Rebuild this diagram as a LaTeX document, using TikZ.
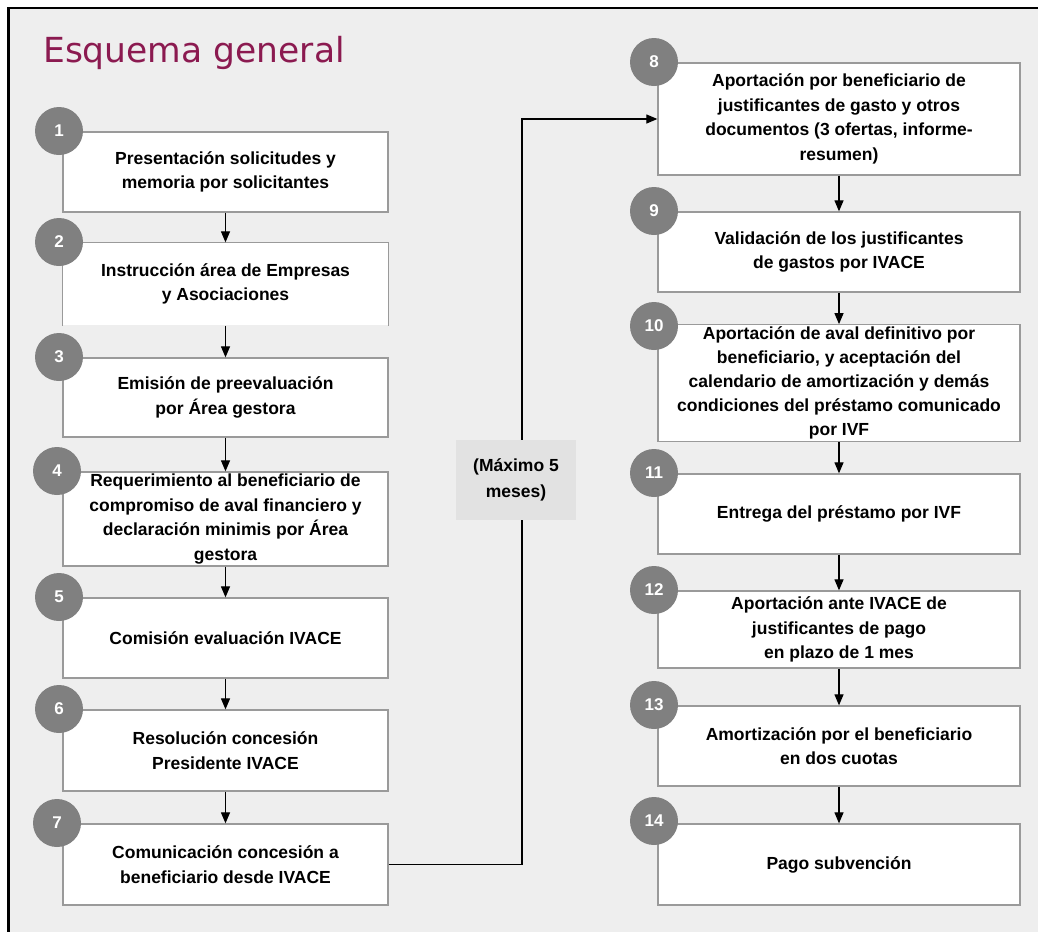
\documentclass[tikz,border=0pt]{standalone}
\usepackage{fontspec}
\setmainfont{Liberation Sans}
\newfontfamily\titlefont{DejaVu Sans}
\usetikzlibrary{arrows.meta}
\definecolor{bgcol}{HTML}{EEEEEE}
\definecolor{titlecol}{HTML}{8B1A50}
\definecolor{circcol}{HTML}{808080}
\definecolor{boxline}{HTML}{9A9A9A}
\definecolor{labfill}{HTML}{E2E2E2}
\tikzset{
  stepbox/.style={draw=boxline, line width=1.3pt, fill=white, align=center,
    font=\fontsize{17.5}{24.5}\selectfont\bfseries, inner sep=2pt},
  numcirc/.style={circle, fill=circcol, minimum size=48pt, inner sep=0pt,
    text=white, font=\fontsize{17}{20}\selectfont\bfseries},
  arr/.style={draw=black, line width=1.2pt, -{Triangle[length=11pt,width=9pt]}},
  lab/.style={fill=labfill, align=center, minimum width=120pt, minimum height=80pt,
    font=\fontsize{17.5}{26}\selectfont\bfseries, inner sep=0pt}
}
\begin{document}
\begin{tikzpicture}[x=1pt,y=-1pt]
\useasboundingbox (0,0) rectangle (1038,932);
\fill[white] (0,0) rectangle (1038,932);
\fill[bgcol] (8,8) rectangle (1038,932);
\draw[line width=2.3pt] (7,8) -- (1038,8);
\draw[line width=3pt] (8.5,7) -- (8.5,932);

\node[anchor=base west, inner sep=0pt, text=titlecol, font=\titlefont\fontsize{34.5}{40}\selectfont] (title) at (43,62) {Esquema general};

% left column (x 63..388)
\node[stepbox, minimum width=325pt, minimum height=80pt] (b1) at (225.5,172) {Presentación solicitudes y\\memoria por solicitantes};
\node[stepbox, draw=none, minimum width=325pt, minimum height=82pt] (b2) at (225.5,284) {Instrucción área de Empresas\\y Asociaciones};
\draw[boxline, line width=1.3pt] (b2.south west) -- (b2.north west) -- (b2.north east) -- (b2.south east);
\node[stepbox, minimum width=325pt, minimum height=79pt] (b3) at (225.5,397.5) {Emisión de preevaluación\\por Área gestora};
\node[stepbox, minimum width=325pt, minimum height=94pt] (b4) at (225.5,519) {Requerimiento al beneficiario de\\compromiso de aval financiero y\\declaración minimis por Área\\gestora};
\node[stepbox, minimum width=325pt, minimum height=80pt] (b5) at (225.5,638) {Comisión evaluación IVACE};
\node[stepbox, minimum width=325pt, minimum height=81pt] (b6) at (225.5,750.5) {Resolución concesión\\Presidente IVACE};
\node[stepbox, minimum width=325pt, minimum height=81pt] (b7) at (225.5,864.5) {Comunicación concesión a\\beneficiario desde IVACE};

% right column (x 658..1020)
\node[stepbox, minimum width=362pt, minimum height=112pt] (b8) at (839,119) {Aportación por beneficiario de\\justificantes de gasto y otros\\documentos (3 ofertas, informe-\\resumen)};
\node[stepbox, minimum width=362pt, minimum height=80pt] (b9) at (839,252) {Validación de los justificantes\\de gastos por IVACE};
\node[stepbox, minimum width=362pt, minimum height=112pt, font=\fontsize{17.5}{24}\selectfont\bfseries] (b10) at (839,383) {Aportación de aval definitivo por\\beneficiario, y aceptación del\\calendario de amortización y demás\\condiciones del préstamo comunicado\\por IVF};
\node[stepbox, minimum width=362pt, minimum height=80pt] (b11) at (839,514) {Entrega del préstamo por IVF};
\node[stepbox, minimum width=362pt, minimum height=77pt] (b12) at (839,629.5) {Aportación ante IVACE de\\justificantes de pago\\en plazo de 1 mes};
\node[stepbox, minimum width=362pt, minimum height=80pt] (b13) at (839,746) {Amortización por el beneficiario\\en dos cuotas};
\node[stepbox, minimum width=362pt, minimum height=81pt] (b14) at (839,864.5) {Pago subvención};

% number circles
\node[numcirc] (c1) at (59,131) {1};
\node[numcirc] (c2) at (59,242) {2};
\node[numcirc] (c3) at (59,357) {3};
\node[numcirc] (c4) at (57,471) {4};
\node[numcirc] (c5) at (59,597) {5};
\node[numcirc] (c6) at (59,709) {6};
\node[numcirc] (c7) at (57,823) {7};
\node[numcirc] (c8) at (654,62) {8};
\node[numcirc] (c9) at (654,211) {9};
\node[numcirc] (c10) at (654,326) {10};
\node[numcirc] (c11) at (654,473) {11};
\node[numcirc] (c12) at (654,590) {12};
\node[numcirc] (c13) at (654,705) {13};
\node[numcirc] (c14) at (654,821) {14};

% arrows
\draw[arr] (b1) -- (b2);
\draw[arr] (b2) -- (b3);
\draw[arr] (b3) -- (b4);
\draw[arr] (b4) -- (b5);
\draw[arr] (b5) -- (b6);
\draw[arr] (b6) -- (b7);
\draw[arr] (b8) -- (b9);
\draw[arr] (b9) -- (b10);
\draw[arr] (b10) -- (b11);
\draw[arr] (b11) -- (b12);
\draw[arr] (b12) -- (b13);
\draw[arr] (b13) -- (b14);

\coordinate (k) at (522,0);
\draw[arr] (b7.east) -- (b7.east -| k) -- (b8.west -| k) -- (b8.west);
\node[lab] (lab) at (516,480) {(Máximo 5\\meses)};
\end{tikzpicture}
\end{document}
